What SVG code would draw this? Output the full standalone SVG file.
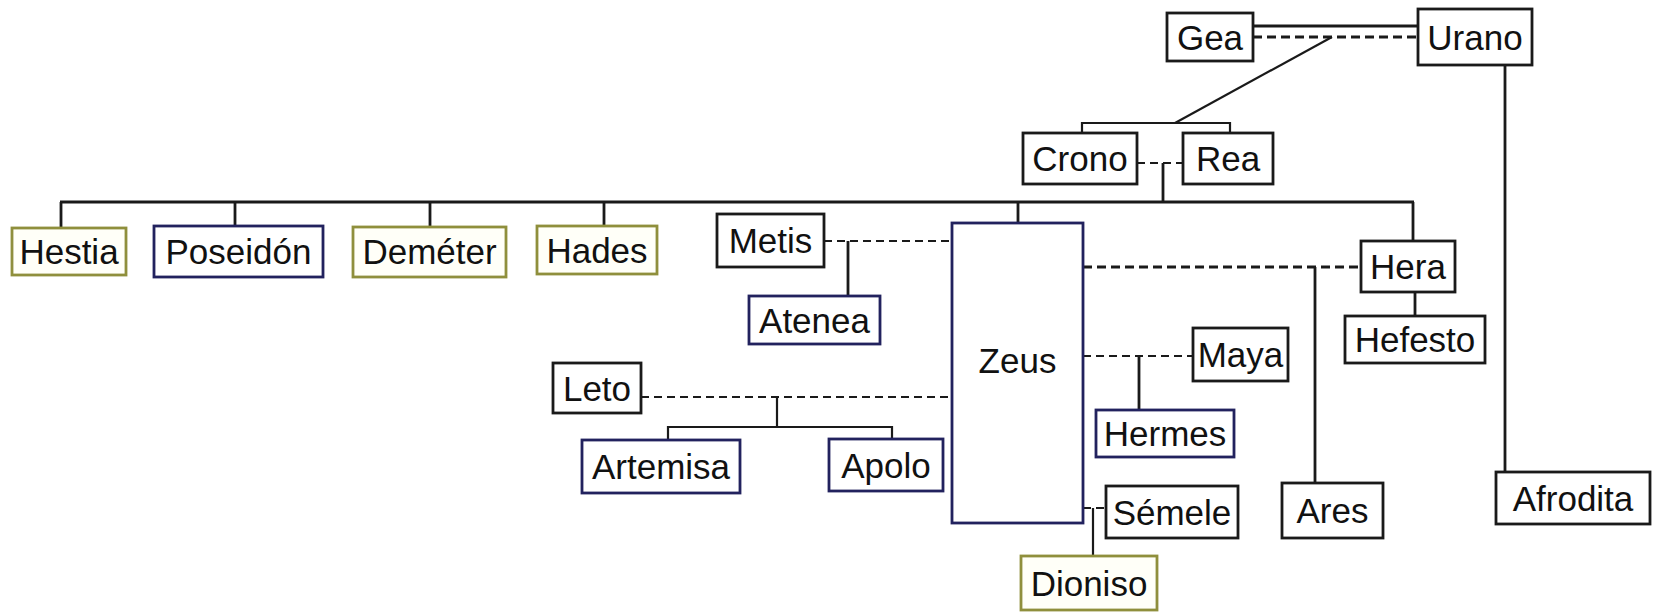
<svg xmlns="http://www.w3.org/2000/svg" width="1655" height="613" viewBox="0 0 1655 613">
<style>
.box rect{fill:#fff;stroke:#1a1a1a;stroke-width:2.8}
.box.navy rect{stroke:#22225e}
.box.olive rect{fill:#fffff8;stroke:#8f8f3c}
.box text{font-family:"Liberation Sans",Arial,sans-serif;font-size:35px;fill:#111;text-anchor:middle}
.ln{stroke:#1a1a1a;stroke-width:2.8;fill:none}
.ln2{stroke:#1a1a1a;stroke-width:2.2;fill:none}
.ds{stroke:#1a1a1a;stroke-width:3;fill:none;stroke-dasharray:9 5}
.ds2{stroke:#1a1a1a;stroke-width:2.2;fill:none;stroke-dasharray:8 5}
</style>
<rect width="1655" height="613" fill="#fff"/>
<g id="connectors">
  <line class="ln" x1="1253" y1="26" x2="1418" y2="26"/>
  <line class="ds" x1="1253" y1="37" x2="1418" y2="37"/>
  <line class="ln2" x1="1332" y1="37" x2="1175" y2="123"/>
  <polyline class="ln2" points="1082,133 1082,123 1230,123 1230,133"/>
  <line class="ds2" x1="1137" y1="163" x2="1183" y2="163"/>
  <line class="ln" x1="1163" y1="163" x2="1163" y2="202"/>
  <line class="ln" x1="60" y1="202" x2="1414" y2="202"/>
  <line class="ln" x1="61" y1="202" x2="61" y2="228"/>
  <line class="ln" x1="235" y1="202" x2="235" y2="226"/>
  <line class="ln" x1="430" y1="202" x2="430" y2="227"/>
  <line class="ln" x1="604" y1="202" x2="604" y2="226"/>
  <line class="ln" x1="1018" y1="202" x2="1018" y2="223"/>
  <line class="ln" x1="1413" y1="202" x2="1413" y2="241"/>
  <line class="ln" x1="1505" y1="65" x2="1505" y2="472"/>
  <line class="ds2" x1="824" y1="241" x2="952" y2="241"/>
  <line class="ln" x1="848" y1="241" x2="848" y2="296"/>
  <line class="ds2" x1="641" y1="397" x2="952" y2="397"/>
  <line class="ln2" x1="777" y1="397" x2="777" y2="427"/>
  <polyline class="ln2" points="668,440 668,427 892,427 892,439"/>
  <line class="ds" x1="1083" y1="267" x2="1361" y2="267"/>
  <line class="ln" x1="1315" y1="267" x2="1315" y2="483"/>
  <line class="ln" x1="1415" y1="292" x2="1415" y2="316"/>
  <line class="ds2" x1="1083" y1="356" x2="1193" y2="356"/>
  <line class="ln" x1="1139" y1="356" x2="1139" y2="410"/>
  <line class="ds2" x1="1083" y1="508" x2="1106" y2="508"/>
  <line class="ln2" x1="1093" y1="508" x2="1093" y2="556"/>
</g>
<g id="gea" class="box"><rect x="1167" y="13" width="86" height="48"/><text x="1210" y="49.5">Gea</text></g>
<g id="urano" class="box"><rect x="1418" y="9" width="114" height="56"/><text x="1475" y="49.5">Urano</text></g>
<g id="crono" class="box"><rect x="1023" y="133" width="114" height="51"/><text x="1080" y="171">Crono</text></g>
<g id="rea" class="box"><rect x="1183" y="133" width="90" height="51"/><text x="1228" y="171">Rea</text></g>
<g id="hestia" class="box olive"><rect x="12" y="228" width="114" height="47"/><text x="69" y="264">Hestia</text></g>
<g id="poseidon" class="box navy"><rect x="154" y="226" width="169" height="51"/><text x="238.5" y="264">Poseidón</text></g>
<g id="demeter" class="box olive"><rect x="353" y="227" width="153" height="50"/><text x="429.5" y="264">Deméter</text></g>
<g id="hades" class="box olive"><rect x="537" y="226" width="120" height="48"/><text x="597" y="262.5">Hades</text></g>
<g id="metis" class="box"><rect x="717" y="214" width="107" height="53"/><text x="770.5" y="253">Metis</text></g>
<g id="atenea" class="box navy"><rect x="749" y="296" width="131" height="48"/><text x="814.5" y="332.5">Atenea</text></g>
<g id="zeus" class="box navy"><rect x="952" y="223" width="131" height="300"/><text x="1017.5" y="373">Zeus</text></g>
<g id="leto" class="box"><rect x="553" y="363" width="88" height="50"/><text x="597" y="400.5">Leto</text></g>
<g id="artemisa" class="box navy"><rect x="582" y="440" width="158" height="53"/><text x="661" y="479">Artemisa</text></g>
<g id="apolo" class="box navy"><rect x="829" y="439" width="114" height="52"/><text x="886" y="477.5">Apolo</text></g>
<g id="hera" class="box"><rect x="1361" y="241" width="94" height="51"/><text x="1408" y="279">Hera</text></g>
<g id="hefesto" class="box"><rect x="1345" y="316" width="140" height="47"/><text x="1415" y="352">Hefesto</text></g>
<g id="maya" class="box"><rect x="1193" y="328" width="95" height="53"/><text x="1240.5" y="367">Maya</text></g>
<g id="hermes" class="box navy"><rect x="1096" y="410" width="138" height="47"/><text x="1165" y="446">Hermes</text></g>
<g id="semele" class="box"><rect x="1106" y="486" width="132" height="52"/><text x="1172" y="524.5">Sémele</text></g>
<g id="ares" class="box"><rect x="1282" y="483" width="101" height="55"/><text x="1332.5" y="523">Ares</text></g>
<g id="afrodita" class="box"><rect x="1496" y="472" width="154" height="52"/><text x="1573" y="510.5">Afrodita</text></g>
<g id="dioniso" class="box olive"><rect x="1021" y="556" width="136" height="54"/><text x="1089" y="595.5">Dioniso</text></g>
</svg>
